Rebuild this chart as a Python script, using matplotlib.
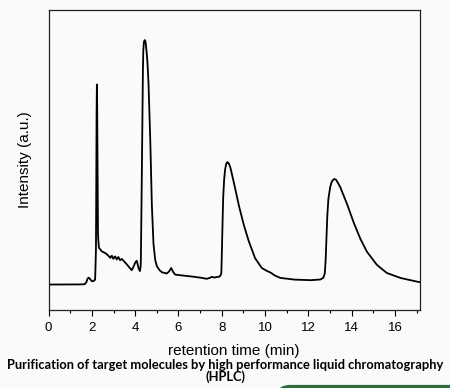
import numpy as np
import matplotlib.pyplot as plt
from matplotlib.patches import FancyBboxPatch
from matplotlib.ticker import MultipleLocator

# retention time (min) and detector signal (a.u.)
time_min = [0.0, 1.0, 1.66, 1.74, 1.80, 1.86, 1.93, 2.0, 2.08, 2.15, 2.19, 2.21, 2.23,
            2.245, 2.26, 2.28, 2.32, 2.45, 2.61, 2.76, 2.84, 2.92, 2.99, 3.07, 3.15,
            3.22, 3.30, 3.38, 3.53, 3.69, 3.84, 3.93, 3.99, 4.07, 4.15, 4.22, 4.26,
            4.30, 4.34, 4.37, 4.40, 4.44, 4.48, 4.52, 4.56, 4.61, 4.69, 4.76, 4.84,
            4.92, 5.0, 5.12, 5.23, 5.46, 5.58, 5.66, 5.74, 5.84, 6.07, 6.53, 7.0,
            7.30, 7.43, 7.53, 7.65, 7.91, 7.98, 8.02, 8.06, 8.10, 8.15, 8.21, 8.27,
            8.33, 8.40, 8.53, 8.76, 8.99, 9.22, 9.53, 9.84, 10.05, 10.23, 10.45,
            10.69, 11.3, 12.07, 12.55, 12.69, 12.76, 12.80, 12.85, 12.92, 13.0, 13.07,
            13.14, 13.2, 13.28, 13.46, 13.77, 14.07, 14.38, 14.69, 15.15, 15.61,
            16.23, 17.15]
signal = [25.0, 25.0, 25.2, 27.0, 31.0, 32.0, 30.0, 28.3, 28.5, 30.0, 60.0, 175.0, 232.0,
          205.0, 120.0, 75.0, 62.0, 58.3, 56.7, 54.0, 51.7, 54.0, 50.7, 53.3, 50.0,
          52.7, 49.3, 50.7, 47.3, 43.3, 39.3, 43.0, 46.7, 49.0, 41.7, 38.3, 45.0,
          120.0, 215.0, 258.0, 268.0, 270.0, 268.0, 260.0, 250.0, 230.0, 176.7, 110.0, 66.7,
          50.0, 43.3, 39.5, 37.3, 36.0, 38.5, 41.7, 38.0, 35.0, 34.3, 33.3, 32.0,
          30.7, 31.5, 32.7, 32.0, 33.0, 36.0, 70.0, 110.0, 128.0, 140.0, 146.5, 147.7,
          146.0, 142.0, 130.0, 106.7, 86.7, 70.0, 51.7, 41.7, 39.0, 37.3, 34.0,
          31.7, 30.0, 29.3, 30.0, 31.7, 36.0, 50.0, 85.0, 110.0, 122.0, 127.5,
          130.0, 130.7, 130.0, 123.3, 106.7, 88.3, 71.7, 58.3, 45.0, 36.7,
          31.7, 27.3]

x_ticks = [0, 2, 4, 6, 8, 10, 12, 14, 16]

bg = "#fafafa"
fig = plt.figure(figsize=(4.5, 3.88), dpi=100, facecolor=bg)
ax = fig.add_axes([0.108, 0.2023, 0.825, 0.772], facecolor=bg)

# light smoothing of the hand-read points
t_dense = np.linspace(time_min[0], time_min[-1], 4000)
s_dense = np.interp(t_dense, time_min, signal)
kernel = np.ones(3) / 3
s_smooth = np.convolve(np.pad(s_dense, 1, mode="edge"), kernel, mode="valid")
ax.plot(t_dense, s_smooth, color="black", lw=1.3, solid_joinstyle="round")

ax.set_xlim(0, 17.15)
ax.set_ylim(0, 300)
ax.set_xticks(x_ticks)
ax.xaxis.set_minor_locator(MultipleLocator(1))
ax.set_yticks([])
ax.tick_params(axis="x", which="major", direction="out", length=4, width=0.8,
               labelsize=9.5, pad=5)
ax.tick_params(axis="x", which="minor", direction="out", length=2.5, width=0.8)
for sp in ax.spines.values():
    sp.set_linewidth(0.9)
    sp.set_color("#222222")

ax.set_xlabel("retention time (min)", fontsize=11, family="Liberation Sans",
              labelpad=7)
ax.set_ylabel("Intensity (a.u.)", fontsize=11, family="Liberation Sans",
              labelpad=12)
for lbl in ax.get_xticklabels():
    lbl.set_family("Liberation Sans")

fig.text(0.5, 0.044, "Purification of target molecules by high performance liquid chromatography\n(HPLC)",
         ha="center", va="center", fontsize=9.3, fontweight="bold",
         family="Lato", linespacing=1.0)

# green panel edge peeking in at the bottom right
fig.patches.append(FancyBboxPatch((0.615, -0.05), 0.5, 0.058,
                                  boxstyle="round,pad=0,rounding_size=0.03",
                                  transform=fig.transFigure, facecolor="#2e6a3d",
                                  edgecolor="none"))

fig.savefig("out.png", dpi=100, facecolor=bg)
